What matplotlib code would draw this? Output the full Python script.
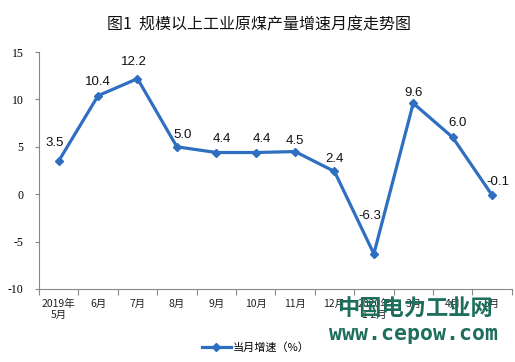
import matplotlib.pyplot as plt

plt.rcParams['font.family'] = ['Noto Sans CJK SC', 'DejaVu Sans']

# data
months = ['2019年\n5月', '6月', '7月', '8月', '9月', '10月', '11月', '12月',
          '2020年\n1-2月', '3月', '4月', '5月']
growth = [3.5, 10.4, 12.2, 5.0, 4.4, 4.4, 4.5, 2.4, -6.3, 9.6, 6.0, -0.1]
yticks = [-10, -5, 0, 5, 10, 15]

# label offsets in pixels (dx, dy)
label_off = [(-4, 18), (0, 14), (-4, 17), (6, 12), (6, 14), (6, 14),
             (0, 11), (0, 12), (-4, 38), (0, 10), (5, 14), (6, 13)]

blue = '#2F6FC2'

fig = plt.figure(figsize=(5.15, 3.62), dpi=100)
ax = fig.add_axes([0.0757, 0.202, 0.918, 0.654])

x = list(range(len(months)))
ax.plot(x, growth, color=blue, lw=2.3, marker='D', ms=4, label='当月增速（%）')

for i, v in enumerate(growth):
    dx, dy = label_off[i]
    ax.annotate(f'{v:.1f}', (i, v), xytext=(dx, dy), textcoords='offset pixels',
                ha='center', va='center', fontsize=9.5,
                family='Liberation Sans', color='#111111')

ax.set_xlim(-0.5, len(months) - 0.5)
ax.set_ylim(-10, 15)
ax.set_yticks(yticks)
ax.set_yticklabels([str(t) for t in yticks], family='Liberation Serif', fontsize=8.5)
ax.tick_params(axis='y', length=3, pad=8, color='#888888')

ax.set_xticks([i + 0.5 for i in range(-1, len(months))], minor=False)
ax.set_xticklabels([])
ax.set_xticks(x, minor=True)
ax.set_xticklabels(months, minor=True, fontsize=7.5, color='#222222', linespacing=1.1)
ax.tick_params(axis='x', which='major', length=4, color='#888888')
ax.tick_params(axis='x', which='minor', length=0, pad=7)

for s in ['top', 'right']:
    ax.spines[s].set_visible(False)
for s in ['left', 'bottom']:
    ax.spines[s].set_color('#888888')

fig.text(0.503, 0.931, '图1  规模以上工业原煤产量增速月度走势图', ha='center', va='center',
         fontsize=11.5, color='#111111')

leg = fig.legend(loc='center', bbox_to_anchor=(0.497, 0.041), frameon=False,
                 fontsize=8, handlelength=2.6, handletextpad=0.2)

# watermark
fig.text(0.806, 0.146, '中国电力工业网', ha='center', va='center', fontsize=16,
         fontweight='bold', color='#1E6E5C')
fig.text(0.802, 0.077, 'www.cepow.com', ha='center', va='center', fontsize=15.5,
         fontweight='bold', family='DejaVu Sans Mono', color='#1E6E5C')

fig.savefig('out.png', dpi=100)
